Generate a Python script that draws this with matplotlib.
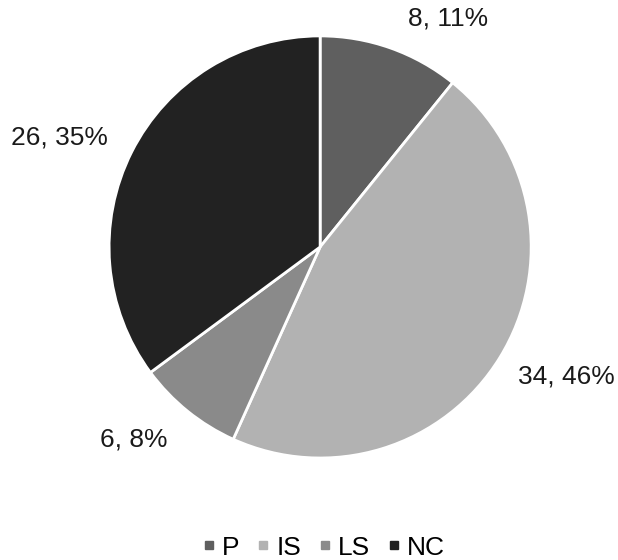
import matplotlib
matplotlib.use("Agg")
import matplotlib.pyplot as plt
import matplotlib.lines as mlines
import numpy as np

plt.rcParams["font.family"] = ["Liberation Sans", "DejaVu Sans"]

# ── data ──────────────────────────────────────────────
categories = ["P", "IS", "LS", "NC"]
counts = [8, 34, 6, 26]
colors = ["#5f5f5f", "#b2b2b2", "#8a8a8a", "#222222"]
# label position (radius, angle offset in deg from wedge centre), Excel-like
label_r = [1.24, 1.32, 1.27, 1.34]
label_dang = [-9.7, 3.9, -5.2, 4.0]

fig = plt.figure(figsize=(6.18, 5.6), dpi=100)
ax = fig.add_axes([0.518 - 0.3415, 0.559 - 0.377, 0.683, 0.754])

wedges, _ = ax.pie(
    counts, colors=colors, startangle=90, counterclock=False,
    wedgeprops=dict(edgecolor="white", linewidth=2),
)
ax.set_aspect("equal")

total = sum(counts)
for w, n, r, da in zip(wedges, counts, label_r, label_dang):
    mid = np.deg2rad((w.theta1 + w.theta2) / 2 + da)
    pct = round(100 * n / total)
    ax.text(r * np.cos(mid), r * np.sin(mid), f"{n}, {pct}%",
            ha="center", va="center", fontsize=19, color="#1a1a1a")

ax.set_xlim(-1, 1)
ax.set_ylim(-1, 1)

handles = [mlines.Line2D([], [], color=c, marker="s", linestyle="None",
                         markersize=6, label=l)
           for c, l in zip(colors, categories)]
fig.legend(handles=handles, loc="center", bbox_to_anchor=(0.524, 0.022),
           ncol=4, frameon=False, fontsize=19, handlelength=0.5,
           handletextpad=0.25, columnspacing=0.65)

fig.savefig("out.png", dpi=100)
